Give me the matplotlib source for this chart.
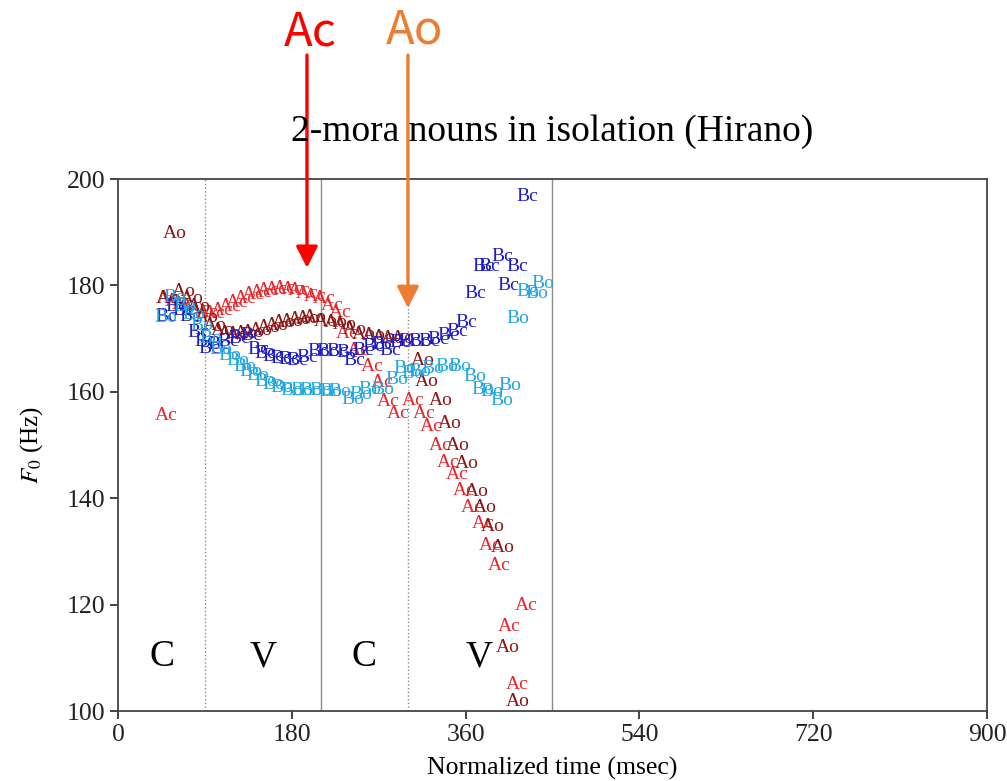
import matplotlib
matplotlib.use('Agg')
import matplotlib.pyplot as plt

plt.rcParams['font.family'] = ['Liberation Serif', 'DejaVu Serif']
plt.rcParams['mathtext.fontset'] = 'stix'

# F0 tracks (time in msec, F0 in Hz)
ac_x = [50, 52, 60, 68, 76, 84, 92, 100, 108, 116, 124, 132, 140, 148, 156, 164, 172, 180, 188, 196, 204,
        214, 222, 230, 237, 249, 263, 274, 280, 290, 306, 317, 324, 334, 342, 351, 359, 367, 378, 386, 395,
        423, 405, 414]
ac_y = [155.5, 177.5, 177, 176.5, 176, 175.5, 175, 174.8, 175.2, 176, 176.8, 177.5, 178.2, 178.7, 179, 179.3,
        179.5, 179.3, 179, 178.5, 178, 177.6, 176.3, 175, 171, 167.7, 164.8, 161.7, 158.1, 156.0, 158.3, 156.0,
        153.4, 150.0, 146.8, 144.4, 141.5, 138.3, 135.2, 131.2, 127.4, 119.9, 115.8, 104.9]

ao_x = [51, 59, 68, 76, 84, 92, 100, 108, 116, 124, 132, 140, 148, 156, 164, 172, 180, 188, 196, 204,
        215, 225, 235, 245, 255, 265, 275, 285, 295, 316, 320, 334, 344, 352, 361, 372, 380, 388, 398, 404, 414]
ao_y = [177.6, 189.7, 178.8, 177.5, 176, 174, 172.5, 171.5, 171, 170.8, 171, 171.2, 171.5, 172, 172.5, 173,
        173.3, 173.6, 173.8, 174, 173.3, 173, 172.6, 171.8, 170.8, 170.5, 170.3, 170.1, 170, 165.8, 162, 158.3,
        154.1, 150, 146.6, 141.2, 138.2, 134.6, 130.8, 112, 101.7]

bc_x = [50, 60, 68, 75, 83, 90, 95, 104, 114, 126, 138, 145, 153, 161, 169, 177, 186, 196, 207, 217, 227,
        237, 245, 254, 264, 274, 282, 292, 302, 312, 322, 332, 342, 351, 361, 370, 378, 385, 398, 414, 404, 424]
bc_y = [174.2, 176, 175.2, 174.1, 171.2, 169.4, 168.2, 168.8, 169.4, 170, 170.5, 168, 167.2, 166.6, 166.2, 166,
        165.8, 166.5, 167.5, 167.5, 167.5, 167.4, 165.8, 167.7, 168.6, 168.8, 167.7, 169.2, 169.4, 169.4, 169.5,
        169.8, 170.5, 171.4, 173.1, 178.4, 183.6, 183.6, 185.5, 183.6, 179.9, 196.8]

bo_x = [50, 59, 69, 78, 87, 96, 107, 116, 124, 131, 138, 145, 153, 161, 170, 180, 190, 200, 210, 220, 230,
        243, 252, 261, 274, 289, 297, 305, 313, 326, 341, 354, 370, 378, 387, 398, 406, 414, 424, 434, 440]
bo_y = [174, 177.8, 176, 174.5, 172.5, 170, 168, 166.8, 165.8, 164.8, 163.8, 163, 162, 161.3, 160.8, 160.3,
        160.2, 160.2, 160.2, 160.1, 160, 158.6, 159.5, 160.5, 160.5, 162.4, 164.3, 163.5, 163.9, 164.3, 164.7,
        164.8, 162.8, 160.5, 160, 158.3, 161.1, 173.7, 178.8, 178.4, 180.3]

series = [('Ac', ac_x, ac_y, '#e8262b'),
          ('Ao', ao_x, ao_y, '#8b1414'),
          ('Bc', bc_x, bc_y, '#1c1cc8'),
          ('Bo', bo_x, bo_y, '#20a6e0')]

# segment boundaries and labels
bounds = [90, 210, 300, 450]
bound_styles = [':', '-', ':', '-']
seg_labels = ['C', 'V', 'C', 'V']
seg_x = [46, 150, 255, 374]

fig = plt.figure(figsize=(10.07, 7.81), dpi=100)
ax = fig.add_axes([0.1172, 0.0896, 0.8629, 0.6812])

for b, ls in zip(bounds, bound_styles):
    ax.axvline(b, color='#8c8c8c', lw=1.0, ls=ls, zorder=1)

for name, xs, ys, col in series:
    for x, y in zip(xs, ys):
        ax.text(x, y, name, color=col, fontsize=14, ha='center', va='center', zorder=3)

for lab, x in zip(seg_labels, seg_x):
    ax.text(x, 110.2, lab, fontsize=27, ha='center', va='center', color='black')

ax.set_xlim(0, 900)
ax.set_ylim(100, 200)
ax.set_xticks([0, 180, 360, 540, 720, 900])
ax.set_yticks([100, 120, 140, 160, 180, 200])
ax.tick_params(direction='out', length=6, width=1.2, labelsize=18.5, colors='#222222', pad=3)
for sp in ax.spines.values():
    sp.set_color('#444444')
    sp.set_linewidth(1.3)
ax.set_xlabel('Normalized time (msec)', fontsize=18.5, labelpad=8)
ax.set_ylabel(r'$F_0$ (Hz)', fontsize=18, labelpad=16)

fig.text(0.5485, 0.831, '2-mora nouns in isolation (Hirano)', fontsize=27, ha='center', va='center')

# arrows pointing at the accent positions
ax.annotate('', xy=(195.7, 183.3), xytext=(195.7, 223.3), annotation_clip=False,
            arrowprops=dict(arrowstyle='-|>,head_width=0.33,head_length=0.65', color='#ff0000',
                            lw=2.4, mutation_scale=20, shrinkA=0, shrinkB=0))
ax.annotate('', xy=(300.3, 175.75), xytext=(300.3, 223.3), annotation_clip=False,
            arrowprops=dict(arrowstyle='-|>,head_width=0.33,head_length=0.65', color='#ed7d31',
                            lw=2.4, mutation_scale=20, shrinkA=0, shrinkB=0))
ax.text(198.8, 227.5, 'Ac', color='#ff0000', fontsize=34, ha='center', va='center',
        family=['Noto Sans CJK JP', 'DejaVu Sans'], clip_on=False)
ax.text(307.6, 228, 'Ao', color='#ed7d31', fontsize=34, ha='center', va='center',
        family=['Noto Sans CJK JP', 'DejaVu Sans'], clip_on=False)

fig.savefig('out.png', dpi=100)
